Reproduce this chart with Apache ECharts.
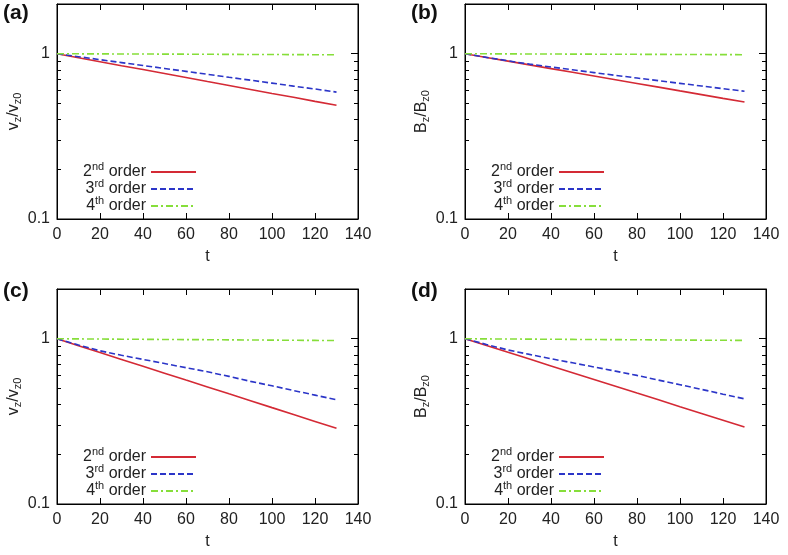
<!DOCTYPE html>
<html>
<head>
<meta charset="utf-8">
<script src="https://cdn.jsdelivr.net/npm/echarts@6/dist/echarts.min.js"></script>
<style>html,body{margin:0;padding:0;background:#fff;}#c{width:788px;height:555px;}</style>
</head>
<body>
<div id="c"></div>
<script>
// ---- data ----
const tValues = [0,10,20,30,40,50,60,70,80,90,100,110,120,130];
const seriesNames = ['2nd order','3rd order','4th order'];
const xTicks = [0,20,40,60,80,100,120,140];
const yMajorTicks = [0.1, 1];
const yMinorTicks = [0.2,0.3,0.4,0.5,0.6,0.7,0.8,0.9,2];

const aOrder2 = [1.000,0.946,0.895,0.847,0.802,0.759,0.718,0.679,0.643,0.608,0.575,0.545,0.515,0.488];
const aOrder3 = [1.000,0.960,0.921,0.884,0.849,0.815,0.782,0.751,0.720,0.692,0.664,0.637,0.612,0.586];
const aOrder4 = [1.000,0.999,0.998,0.997,0.996,0.995,0.994,0.993,0.991,0.990,0.989,0.988,0.987,0.986];

const bOrder2 = [1.000,0.950,0.902,0.856,0.813,0.772,0.733,0.696,0.661,0.628,0.596,0.566,0.537,0.511];
const bOrder3 = [1.000,0.951,0.906,0.865,0.832,0.800,0.769,0.740,0.713,0.687,0.662,0.638,0.615,0.593];
const bOrder4 = [1.000,0.999,0.998,0.997,0.996,0.995,0.994,0.993,0.992,0.991,0.990,0.989,0.988,0.987];

const cOrder2 = [1.000,0.908,0.825,0.750,0.681,0.619,0.562,0.511,0.464,0.422,0.383,0.348,0.316,0.287];
const cOrder3 = [1.000,0.916,0.845,0.794,0.750,0.708,0.668,0.631,0.592,0.552,0.519,0.486,0.456,0.427];
const cOrder4 = [1.000,0.998,0.996,0.994,0.992,0.990,0.988,0.987,0.985,0.983,0.981,0.979,0.977,0.975];

const dOrder2 = [1.000,0.910,0.828,0.753,0.685,0.623,0.567,0.516,0.469,0.427,0.388,0.353,0.321,0.292];
const dOrder3 = [1.000,0.923,0.855,0.804,0.757,0.715,0.675,0.637,0.600,0.562,0.527,0.494,0.462,0.433];
const dOrder4 = [1.000,0.998,0.996,0.995,0.993,0.991,0.989,0.988,0.986,0.984,0.982,0.980,0.979,0.977];

// ---- layout / style ----
const FONT = '"Liberation Sans", Arial, Helvetica, sans-serif';
const colors = ['#d42a35', '#2b35c8', '#86de3a'];
const dashes = ['solid', [6, 3], [7, 3, 2, 3]];
const panels = [
  {label:'(a)', left:57,  top:4,   yName:'v{sub|z}/v{sub|z0}', data:[aOrder2,aOrder3,aOrder4], labelX:3,   labelY:3},
  {label:'(b)', left:465, top:4,   yName:'B{sub|z}/B{sub|z0}', data:[bOrder2,bOrder3,bOrder4], labelX:411, labelY:3},
  {label:'(c)', left:57,  top:289, yName:'v{sub|z}/v{sub|z0}', data:[cOrder2,cOrder3,cOrder4], labelX:3,   labelY:281},
  {label:'(d)', left:465, top:289, yName:'B{sub|z}/B{sub|z0}', data:[dOrder2,dOrder3,dOrder4], labelX:411, labelY:281}
];
const W = 301, H = 215;

const grid = [], xAxis = [], yAxis = [], series = [], legend = [], title = [];
const supText = {'2nd order':'2{sup|nd} order','3rd order':'3{sup|rd} order','4th order':'4{sup|th} order'};

panels.forEach((p, i) => {
  grid.push({left:p.left, top:p.top, width:W, height:H, show:true, borderColor:'#000', borderWidth:1, backgroundColor:'transparent'});
  const xBase = {gridIndex:i, type:'value', min:0, max:140, interval:20,
    axisLine:{show:true, lineStyle:{color:'#000', width:1}},
    axisTick:{show:true, inside:true, length:6, lineStyle:{color:'#000'}},
    splitLine:{show:false}};
  xAxis.push(Object.assign({}, xBase, {position:'bottom',
    axisLabel:{show:true, fontSize:16, color:'#222', margin:8, fontFamily:FONT, customValues:xTicks},
    name:'t', nameLocation:'middle', nameGap:30,
    nameTextStyle:{fontSize:16, color:'#222', fontFamily:FONT}}));
  xAxis.push(Object.assign({}, xBase, {position:'top', axisLabel:{show:false}}));

  const yBase = {gridIndex:i, type:'log', logBase:10, min:0.1, max:2, splitLine:{show:false}};
  yAxis.push(Object.assign({}, yBase, {position:'left',
    axisLine:{show:true, lineStyle:{color:'#000'}},
    axisTick:{show:true, inside:true, length:7, customValues:yMajorTicks, lineStyle:{color:'#000'}},
    axisLabel:{show:true, fontSize:16, color:'#222', margin:7, fontFamily:FONT, customValues:yMajorTicks,
      formatter: v => String(v)},
    name:p.yName, nameLocation:'middle', nameGap:31, nameRotate:90,
    nameTextStyle:{fontSize:16, color:'#222', fontFamily:FONT, lineHeight:20,
      rich:{sub:{fontSize:11, fontFamily:FONT, color:'#222', verticalAlign:'bottom', lineHeight:12}}}}));
  yAxis.push(Object.assign({}, yBase, {position:'left', axisLine:{show:false},
    axisTick:{show:true, inside:true, length:4, customValues:yMinorTicks, lineStyle:{color:'#000'}},
    axisLabel:{show:false}}));
  yAxis.push(Object.assign({}, yBase, {position:'right',
    axisLine:{show:true, lineStyle:{color:'#000'}},
    axisTick:{show:true, inside:true, length:7, customValues:yMajorTicks, lineStyle:{color:'#000'}},
    axisLabel:{show:false}}));
  yAxis.push(Object.assign({}, yBase, {position:'right', axisLine:{show:false},
    axisTick:{show:true, inside:true, length:4, customValues:yMinorTicks, lineStyle:{color:'#000'}},
    axisLabel:{show:false}}));

  p.data.forEach((arr, k) => {
    series.push({
      type:'line', name:seriesNames[k], xAxisIndex:2*i, yAxisIndex:4*i,
      data: tValues.map((t, j) => [t, arr[j]]),
      symbol:'none', showSymbol:false, animation:false, silent:true,
      lineStyle:{color:colors[k], width:1.6, type:dashes[k]},
      itemStyle:{color:colors[k]}
    });
  });

  legend.push({
    orient:'vertical', align:'right', padding:0,
    right: 788 - (p.left + 140), top: p.top + 157,
    itemWidth:45, itemHeight:14, itemGap:-5,
    data: seriesNames, selectedMode:false,
    itemStyle:{opacity:0, borderWidth:0},
    formatter: n => supText[n],
    textStyle:{fontSize:16, color:'#222', fontFamily:FONT, lineHeight:22,
      rich:{sup:{fontSize:11, fontFamily:FONT, color:'#222', verticalAlign:'top', lineHeight:11}}}
  });

  title.push({text:p.label, left:p.labelX, top:p.labelY, padding:0,
    textStyle:{fontSize:21, fontWeight:'bold', color:'#111', fontFamily:FONT}});
});

const chart = echarts.init(document.getElementById('c'), null, {renderer:'canvas'});
chart.setOption({animation:false, backgroundColor:'#fff', title, grid, xAxis, yAxis, series, legend});
</script>
</body>
</html>
